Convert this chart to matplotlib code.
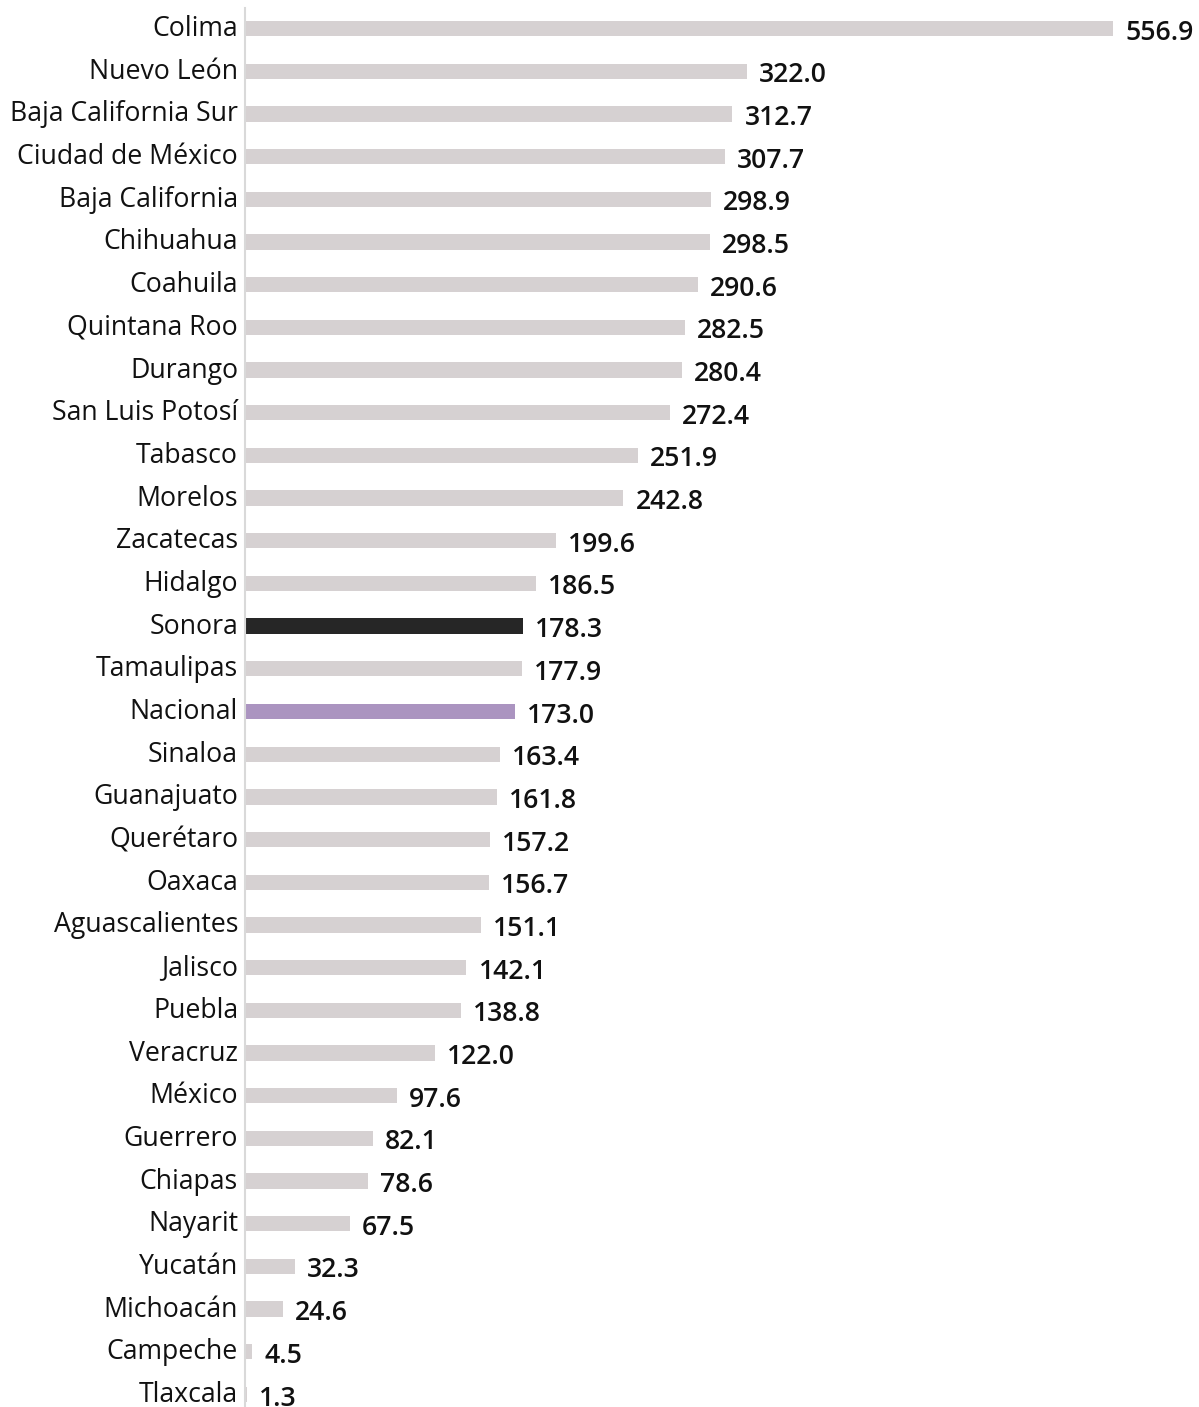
import matplotlib
matplotlib.use("Agg")
import matplotlib.pyplot as plt
from matplotlib.transforms import ScaledTranslation

states = ["Colima", "Nuevo León", "Baja California Sur", "Ciudad de México", "Baja California",
          "Chihuahua", "Coahuila", "Quintana Roo", "Durango", "San Luis Potosí", "Tabasco",
          "Morelos", "Zacatecas", "Hidalgo", "Sonora", "Tamaulipas", "Nacional", "Sinaloa",
          "Guanajuato", "Querétaro", "Oaxaca", "Aguascalientes", "Jalisco", "Puebla",
          "Veracruz", "México", "Guerrero", "Chiapas", "Nayarit", "Yucatán", "Michoacán",
          "Campeche", "Tlaxcala"]
values = [556.9, 322.0, 312.7, 307.7, 298.9, 298.5, 290.6, 282.5, 280.4, 272.4, 251.9,
          242.8, 199.6, 186.5, 178.3, 177.9, 173.0, 163.4, 161.8, 157.2, 156.7, 151.1,
          142.1, 138.8, 122.0, 97.6, 82.1, 78.6, 67.5, 32.3, 24.6, 4.5, 1.3]

base_color = "#d6d1d2"
highlight = {"Sonora": "#262626", "Nacional": "#ab94c0"}
colors = [highlight.get(s, base_color) for s in states]

plt.rcParams["font.family"] = ["Open Sans", "DejaVu Sans"]

W, H = 1199, 1407
fig = plt.figure(figsize=(W / 100, H / 100), dpi=100)
left_px, top_px = 245, 8
ax = fig.add_axes([left_px / W, 0, 1 - left_px / W, (H - top_px) / H])

ypos = list(range(len(states)))
ax.barh(ypos, values, height=0.36, color=colors)

scale = (1113 - 245) / 556.9
ax.set_xlim(0, (W - left_px) / scale)
spacing = (711.5 - 28.5) / 16
ax.set_ylim((H - 28.5) / spacing, -(28.5 - top_px) / spacing)

for y, v in zip(ypos, values):
    ax.annotate(f"{v:.1f}", xy=(v, y), xytext=(12, -4), textcoords="offset pixels",
                ha="left", va="center", fontsize=19.2, fontweight="semibold", color="#111111")

ax.set_yticks(ypos)
ax.set_yticklabels(states, fontsize=19.2, color="#111111")
ax.tick_params(axis="y", length=0, pad=5)
shift = ScaledTranslation(0, 3 / 100, fig.dpi_scale_trans)
for lab in ax.get_yticklabels():
    lab.set_transform(lab.get_transform() + shift)
ax.set_xticks([])
for side in ["top", "right", "bottom"]:
    ax.spines[side].set_visible(False)
ax.spines["left"].set_color("#d9d9d9")
ax.spines["left"].set_linewidth(1.5)

fig.savefig("out.png", dpi=100)
